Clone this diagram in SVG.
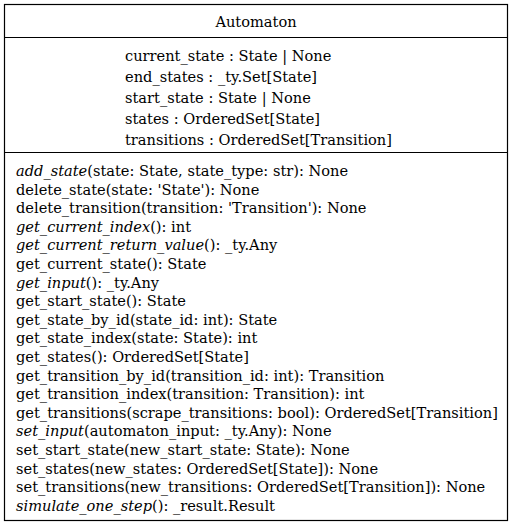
<svg xmlns="http://www.w3.org/2000/svg" width="512" height="525" viewBox="0 0 512 525">
  <style>
    .abs { font-style: italic; }
    .box { fill: #fff; stroke: #000; stroke-width: 1.2; }
    .sep { stroke: #000; stroke-width: 1.2; }
    .serif { font-family: "DejaVu Serif", "Liberation Serif", serif; }
  </style>
  <rect width="512" height="525" fill="#fff"/>
  <g id="Automaton" class="serif" font-size="14.6" fill="#000">
    <rect class="box" x="4.5" y="4.5" width="503" height="516"/>
    <line class="sep" x1="4.5" y1="37.5" x2="507.5" y2="37.5"/>
    <line class="sep" x1="4.5" y1="152.5" x2="507.5" y2="152.5"/>
    <text x="256" y="27" text-anchor="middle">Automaton</text>
    <g id="attributes">
      <text x="125" y="61">current_state : State | None</text>
      <text x="125" y="82">end_states : _ty.Set[State]</text>
      <text x="125" y="103">start_state : State | None</text>
      <text x="125" y="124">states : OrderedSet[State]</text>
      <text x="125" y="145">transitions : OrderedSet[Transition]</text>
    </g>
    <g id="operations">
      <text x="16" y="176"><tspan class="abs">add_state</tspan>(state: State, state_type: str): None</text>
      <text x="16" y="194.6">delete_state(state: 'State'): None</text>
      <text x="16" y="213.2">delete_transition(transition: 'Transition'): None</text>
      <text x="16" y="231.8"><tspan class="abs">get_current_index</tspan>(): int</text>
      <text x="16" y="250.4"><tspan class="abs">get_current_return_value</tspan>(): _ty.Any</text>
      <text x="16" y="269">get_current_state(): State</text>
      <text x="16" y="287.6"><tspan class="abs">get_input</tspan>(): _ty.Any</text>
      <text x="16" y="306.2">get_start_state(): State</text>
      <text x="16" y="324.8">get_state_by_id(state_id: int): State</text>
      <text x="16" y="343.4">get_state_index(state: State): int</text>
      <text x="16" y="362">get_states(): OrderedSet[State]</text>
      <text x="16" y="380.6">get_transition_by_id(transition_id: int): Transition</text>
      <text x="16" y="399.2">get_transition_index(transition: Transition): int</text>
      <text x="16" y="417.8">get_transitions(scrape_transitions: bool): OrderedSet[Transition]</text>
      <text x="16" y="436.4"><tspan class="abs">set_input</tspan>(automaton_input: _ty.Any): None</text>
      <text x="16" y="455">set_start_state(new_start_state: State): None</text>
      <text x="16" y="473.6">set_states(new_states: OrderedSet[State]): None</text>
      <text x="16" y="492.2">set_transitions(new_transitions: OrderedSet[Transition]): None</text>
      <text x="16" y="510.8"><tspan class="abs">simulate_one_step</tspan>(): _result.Result</text>
    </g>
  </g>
</svg>
